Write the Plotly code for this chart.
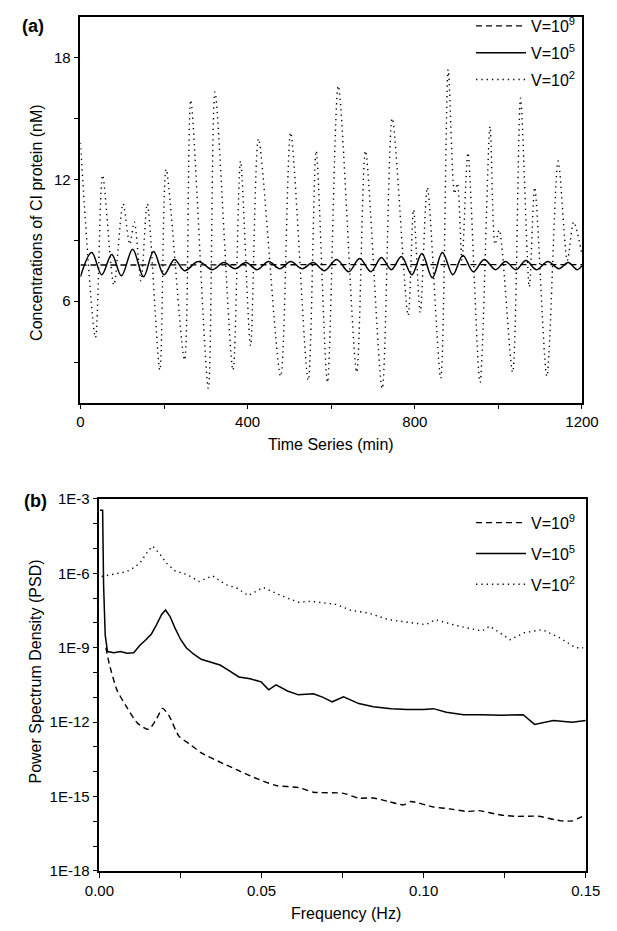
import plotly.graph_objects as go

W, H = 617, 931

# ---------------- Panel (a) data: time series ----------------
t_v9 = [0, 200, 400, 600, 800, 1000, 1200]
c_v9 = [7.78, 7.8, 7.79, 7.8, 7.8, 7.79, 7.8]

t_v5 = [0, 27, 51, 75, 98, 125, 151, 175, 200, 225, 249, 282, 316, 343, 370, 396,
        423, 450, 477, 503, 530, 557, 584, 613, 642, 668, 695, 720, 744, 768, 793,
        817, 842, 866, 891, 915, 940, 966, 993, 1017, 1042, 1066, 1091, 1118, 1145,
        1167, 1189, 1200]
c_v5 = [7.2, 8.4, 7.3, 8.3, 7.25, 8.55, 7.2, 8.45, 7.3, 8.05, 7.5, 7.95, 7.55, 7.9,
        7.6, 7.9, 7.55, 7.95, 7.6, 7.95, 7.6, 7.9, 7.5, 8.05, 7.45, 8.1, 7.45, 8.15,
        7.55, 8.2, 7.3, 8.35, 7.15, 8.4, 7.3, 8.25, 7.45, 8.05, 7.55, 7.95, 7.55, 8.0,
        7.55, 7.95, 7.6, 7.9, 7.55, 7.75]

t_v2 = [0, 36, 53, 80, 102, 118, 129, 145, 160, 190, 205, 249, 264, 306, 322, 365,
        383, 407, 426, 479, 503, 545, 564, 591, 617, 661, 682, 722, 746, 784, 797,
        813, 830, 862, 880, 895, 902, 913, 927, 956, 980, 992, 1002, 1034, 1053,
        1074, 1087, 1116, 1143, 1165, 1180, 1200]
c_v2 = [13.8, 4.2, 12.2, 6.8, 10.8, 8.8, 9.9, 7.0, 10.8, 2.6, 12.5, 3.1, 15.9, 1.7,
        16.3, 2.6, 12.9, 3.8, 14.0, 2.3, 14.3, 2.1, 13.4, 2.0, 16.6, 2.5, 13.4, 1.7,
        15.0, 5.3, 10.5, 5.45, 11.6, 2.2, 17.4, 11.3, 11.8, 8.0, 13.3, 2.0, 14.6, 8.8,
        9.5, 2.5, 16.0, 6.7, 11.6, 2.3, 12.9, 8.0, 9.9, 8.3]

# ---------------- Panel (b) data: PSD ----------------
f_v9 = [0.0020, 0.0031, 0.0054, 0.0083, 0.0118, 0.0152, 0.0175, 0.0195, 0.0215,
        0.0245, 0.0280, 0.0314, 0.0383, 0.0430, 0.0476, 0.0545, 0.0614, 0.0660,
        0.0753, 0.0800, 0.0845, 0.0892, 0.0938, 0.0960, 0.1030, 0.1080, 0.1134,
        0.1170, 0.1238, 0.1284, 0.1354, 0.1423, 0.1458, 0.1498]
p_v9 = [1e-9, 2.1e-10, 2e-11, 4.3e-12, 8.9e-13, 5.1e-13, 1.26e-12, 3.6e-12, 1.8e-12,
        2.75e-13, 1.26e-13, 5.8e-14, 2.1e-14, 1.1e-14, 5.9e-15, 2.8e-15, 2.3e-15,
        1.5e-15, 1.35e-15, 8.7e-16, 8.7e-16, 6.3e-16, 4.6e-16, 6.3e-16, 3.8e-16,
        3.2e-16, 2.5e-16, 2.7e-16, 1.8e-16, 1.6e-16, 1.6e-16, 1.05e-16, 1.05e-16,
        1.8e-16]

f_v5 = [0.0002, 0.0010, 0.0013, 0.0018, 0.0025, 0.0045, 0.0065, 0.0085, 0.0106,
        0.0125, 0.0141, 0.0160, 0.0176, 0.0192, 0.0204, 0.0218, 0.0233, 0.0250,
        0.0268, 0.0290, 0.0314, 0.0340, 0.0372, 0.0400, 0.0430, 0.0465, 0.0499,
        0.0522, 0.0545, 0.0580, 0.0614, 0.0660, 0.0690, 0.0718, 0.0753, 0.0800,
        0.0845, 0.0900, 0.0950, 0.1000, 0.1030, 0.1070, 0.1123, 0.1180, 0.1240,
        0.1307, 0.1342, 0.1400, 0.1458, 0.1500]
p_v5 = [3.5e-4, 3.5e-4, 3.2e-7, 3.2e-9, 7e-10, 6.3e-10, 7e-10, 6e-10, 6.3e-10,
        1.25e-9, 1.95e-9, 3.5e-9, 8.3e-9, 2.2e-8, 3.3e-8, 1.8e-8, 6.3e-9, 2.2e-9,
        1e-9, 5.6e-10, 3.4e-10, 2.6e-10, 2e-10, 1.2e-10, 6.6e-11, 5.6e-11, 4.2e-11,
        2e-11, 3.2e-11, 1.8e-11, 1.26e-11, 1.4e-11, 1e-11, 6.6e-12, 1.05e-11,
        5.6e-12, 4.2e-12, 3.5e-12, 3.2e-12, 3.2e-12, 3.5e-12, 2.5e-12, 2e-12, 2e-12,
        1.9e-12, 2e-12, 8.1e-13, 1.17e-12, 1e-12, 1.17e-12]

f_v2 = [0.0007, 0.0040, 0.0083, 0.0110, 0.0127, 0.0150, 0.0164, 0.0185, 0.0208,
        0.0233, 0.0270, 0.0308, 0.0349, 0.0390, 0.0425, 0.0459, 0.0505, 0.0560,
        0.0614, 0.0650, 0.0695, 0.0730, 0.0776, 0.0830, 0.0892, 0.0950, 0.1007,
        0.1036, 0.1100, 0.1180, 0.1204, 0.1267, 0.1310, 0.1366, 0.1420, 0.1469,
        0.1492]
p_v2 = [7.4e-7, 8.9e-7, 1.15e-6, 1.8e-6, 2.8e-6, 7.9e-6, 1.26e-5, 6.3e-6, 2.5e-6,
        1.26e-6, 8.9e-7, 4.7e-7, 7.9e-7, 3.5e-7, 2.5e-7, 1.26e-7, 2.7e-7, 1.26e-7,
        6.8e-8, 7.4e-8, 6.3e-8, 5.6e-8, 3.2e-8, 2.5e-8, 1.35e-8, 1.1e-8, 8.5e-9,
        1.35e-8, 7.9e-9, 4.7e-9, 7.4e-9, 2.1e-9, 4e-9, 5.4e-9, 2.5e-9, 1e-9, 1e-9]

names = ["V=10<sup>9</sup>", "V=10<sup>5</sup>", "V=10<sup>2</sup>"]

psd_ticks = [1e-3, 1e-6, 1e-9, 1e-12, 1e-15, 1e-18]
psd_ticktext = ["1E-3", "1E-6", "1E-9", "1E-12", "1E-15", "1E-18"]
psd_minor = [1e-4, 1e-5, 1e-7, 1e-8, 1e-10, 1e-11, 1e-13, 1e-14, 1e-16, 1e-17]

FONT = "Liberation Sans, Arial, sans-serif"
DASH = "6px,4px"
DOT = "1.3px,4px"

fig = go.Figure()

fig.add_trace(go.Scatter(x=t_v9, y=c_v9, mode="lines", name=names[0],
                         line=dict(color="black", width=1.4, dash=DASH),
                         xaxis="x", yaxis="y", legend="legend", legendgroup="a9"))
fig.add_trace(go.Scatter(x=t_v5, y=c_v5, mode="lines", name=names[1],
                         line=dict(color="black", width=1.5, shape="spline", smoothing=1.0),
                         xaxis="x", yaxis="y", legend="legend", legendgroup="a5"))
fig.add_trace(go.Scatter(x=t_v2, y=c_v2, mode="lines", name=names[2],
                         line=dict(color="black", width=1.4, dash=DOT, shape="spline", smoothing=0.8),
                         xaxis="x", yaxis="y", legend="legend", legendgroup="a2"))

fig.add_trace(go.Scatter(x=f_v9, y=p_v9, mode="lines", name=names[0],
                         line=dict(color="black", width=1.4, dash=DASH, shape="spline", smoothing=0.6),
                         xaxis="x2", yaxis="y2", legend="legend2", legendgroup="b9"))
fig.add_trace(go.Scatter(x=f_v5, y=p_v5, mode="lines", name=names[1],
                         line=dict(color="black", width=1.5),
                         xaxis="x2", yaxis="y2", legend="legend2", legendgroup="b5"))
fig.add_trace(go.Scatter(x=f_v2, y=p_v2, mode="lines", name=names[2],
                         line=dict(color="black", width=1.4, dash=DOT),
                         xaxis="x2", yaxis="y2", legend="legend2", legendgroup="b2"))

axis_common = dict(showline=True, linecolor="black", linewidth=1.6, mirror=True,
                   ticks="outside", ticklen=5, tickwidth=1.2, tickcolor="black",
                   showgrid=False, zeroline=False,
                   tickfont=dict(family=FONT, size=15, color="black"))
minor_common = dict(ticks="outside", ticklen=5, tickwidth=1.2, tickcolor="black")

fig.update_layout(
    width=W, height=H,
    margin=dict(l=0, r=0, t=0, b=0),
    paper_bgcolor="white", plot_bgcolor="white",
    font=dict(family=FONT, color="black"),
    xaxis=dict(domain=[69 / W, 598 / W], range=[0, 1200], anchor="y",
               tickvals=[0, 400, 800, 1200],
               minor=dict(tickvals=[200, 600, 1000], **minor_common),
               **axis_common),
    yaxis=dict(domain=[1 - 401 / H, 1 - 8 / H], range=[1, 20], anchor="x",
               tickvals=[6, 12, 18],
               minor=dict(tickvals=[3, 9, 15], **minor_common),
               **axis_common),
    xaxis2=dict(domain=[89 / W, 602 / W], range=[0, 0.15], anchor="y2",
                tickvals=[0, 0.05, 0.10, 0.15], ticktext=["0.00", "0.05", "0.10", "0.15"],
                minor=dict(tickvals=[0.025, 0.075, 0.125], **minor_common),
                **axis_common),
    yaxis2=dict(domain=[1 - 878 / H, 1 - 499 / H], type="log", range=[-18, -3], anchor="x2",
                tickvals=psd_ticks, ticktext=psd_ticktext,
                minor=dict(tickvals=psd_minor, **minor_common),
                **axis_common),
    legend=dict(x=597 / W, xanchor="right", y=1.0, yanchor="top",
                bgcolor="rgba(0,0,0,0)", borderwidth=0, itemwidth=50,
                tracegroupgap=3, font=dict(family=FONT, size=16, color="black")),
    legend2=dict(x=597 / W, xanchor="right", y=1 - 506 / H, yanchor="top",
                 bgcolor="rgba(0,0,0,0)", borderwidth=0, itemwidth=50,
                 tracegroupgap=7, font=dict(family=FONT, size=16, color="black")),
    showlegend=True,
)

ann = [
    dict(text="<b>(a)</b>", x=19, y=17, size=18),
    dict(text="<b>(b)</b>", x=22, y=501, size=18),
    dict(text="Time Series (min)", x=333, y=444, size=16),
    dict(text="Frequency (Hz)", x=349, y=921, size=16),
]
for a in ann:
    fig.add_annotation(text=a["text"], x=a["x"] / W, y=1 - a["y"] / H,
                       xref="paper", yref="paper", showarrow=False,
                       xanchor="center", yanchor="middle",
                       font=dict(family=FONT, size=a["size"], color="black"))

fig.add_annotation(text="Concentrations of CI protein (nM)", x=22 / W, y=1 - 217 / H,
                   xref="paper", yref="paper", showarrow=False, textangle=-90,
                   xanchor="center", yanchor="middle",
                   font=dict(family=FONT, size=16, color="black"))
fig.add_annotation(text="Power Spectrum Density (PSD)", x=22 / W, y=1 - 675 / H,
                   xref="paper", yref="paper", showarrow=False, textangle=-90,
                   xanchor="center", yanchor="middle",
                   font=dict(family=FONT, size=16, color="black"))

fig.write_html("out.html",
               config={"displayModeBar": False},
               post_script="document.body.style.margin='0px';document.body.style.overflow='hidden';")
